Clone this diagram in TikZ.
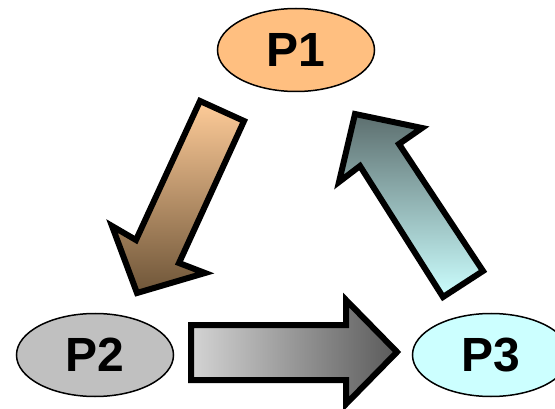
\documentclass[tikz,border=0pt]{standalone}
\usepackage{fontspec}
\setmainfont{Liberation Sans}
\usetikzlibrary{shapes.geometric}
\definecolor{porange}{HTML}{FFBF80}
\definecolor{pgray}{HTML}{C0C0C0}
\definecolor{pcyan}{HTML}{CCFFFF}
\definecolor{aonetop}{HTML}{FFCC99}
\definecolor{aonebot}{HTML}{6E5538}
\definecolor{atwotop}{HTML}{5C6E6E}
\definecolor{atwobot}{HTML}{CCFFFF}
\definecolor{athreeleft}{HTML}{D4D4D4}
\definecolor{athreeright}{HTML}{5A5A5A}
\begin{document}
\begin{tikzpicture}[x=1pt,y=-1pt,
  proc/.style={ellipse, draw=black, line width=1.5pt, minimum width=157pt,
    minimum height=83pt, inner sep=0pt,
    font=\fontsize{48}{48}\selectfont\bfseries},
  blockarrow/.style={draw=black, line width=6pt, line join=miter}]
\useasboundingbox (0,0) rectangle (555,409);
\begin{scope}
\clip (0,0) rectangle (555,409);
\node[proc, fill=porange] (p1) at (296,50) {P1};
\node[proc, fill=pgray] (p2) at (95,355) {P2};
\node[proc, fill=pcyan] (p3) at (491,355) {P3};
% P1 -> P2
\draw[blockarrow, top color=aonetop, bottom color=aonebot]
  (200,101) -- (244,121) -- (179,263) -- (205,273) -- (137,293)
  -- (112,226) -- (136,240) -- cycle;
% P3 -> P1
\draw[blockarrow, top color=atwotop, bottom color=atwobot]
  (355,114) -- (422,128) -- (399,144) -- (483,271) -- (443,297)
  -- (360,166) -- (339,182) -- cycle;
% P2 -> P3
\draw[blockarrow, left color=athreeleft, right color=athreeright]
  (191,325) -- (346,325) -- (346,300) -- (397,352) -- (346,404)
  -- (346,380) -- (191,380) -- cycle;
\end{scope}
\end{tikzpicture}
\end{document}
